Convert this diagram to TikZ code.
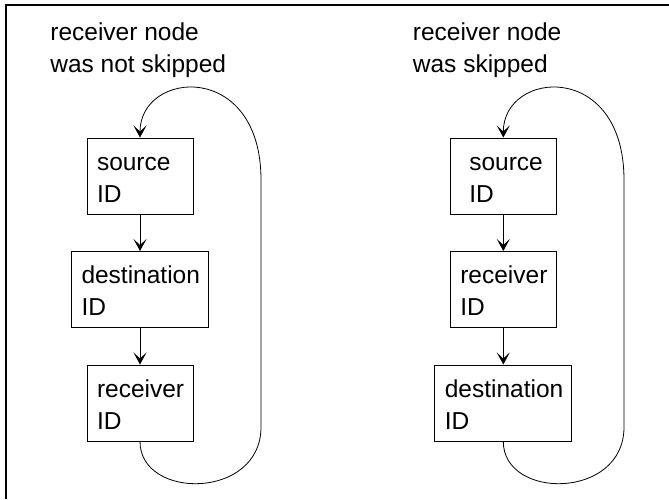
\documentclass[tikz,border=0pt]{standalone}
\usepackage{fontspec}
\setmainfont{Liberation Sans}
\usetikzlibrary{arrows.meta}
\newcommand{\idfont}{\fontsize{12.25pt}{16pt}\selectfont}

\begin{document}
\begin{tikzpicture}[x=0.5pt, y=-0.5pt,
    idbox/.style={draw, line width=0.5pt, align=left, font=\idfont,
      inner xsep=5pt, text width=43pt, minimum height=38pt,
      execute at begin node={\rule{0pt}{10pt}}},
    widebox/.style={idbox, text width=58.5pt},
    lateidbox/.style={idbox, inner xsep=9.5pt, text width=34pt},
    caption/.style={anchor=north west, align=left, inner sep=0pt, font=\idfont},
    link/.style={-{Stealth[length=6pt, width=6.5pt, inset=3pt]}, line width=0.4pt},
    backarc/.style={-{Stealth[length=6pt, width=6.5pt, inset=3pt]}, line width=0.4pt}]
  \useasboundingbox (0,0) rectangle (669,499);

  % Frame (only top and left edge visible)
  \draw[line width=0.9pt] (669,4.8) -- (5.8,4.8) -- (5.8,499);

  % Left: receiver node was not skipped
  \node[caption] (capA) at (50,22.7) {receiver node\\was not skipped};
  \node[idbox]   (srcA) at (140,176)   {source\\ID};
  \node[widebox] (dstA) at (140,289.5) {destination\\ID};
  \node[idbox]   (rcvA) at (140,403)   {receiver\\ID};
  \draw[link] (srcA) -- (dstA);
  \draw[link] (dstA) -- (rcvA);
  \draw[backarc] (rcvA.south) .. controls (140,500) and (261,500) .. (261,427)
    -- (261,180) .. controls (261,60) and (140,70) .. (srcA.north);

  % Right: receiver node was skipped
  \node[caption]   (capB) at (412.5,22.7) {receiver node\\was skipped};
  \node[lateidbox] (srcB) at (503.3,176)   {source\\ID};
  \node[idbox]     (rcvB) at (503.3,289.5) {receiver\\ID};
  \node[widebox]   (dstB) at (503.3,403)   {destination\\ID};
  \draw[link] (srcB) -- (rcvB);
  \draw[link] (rcvB) -- (dstB);
  \draw[backarc] (dstB.south) .. controls (503.3,500) and (624,500) .. (624,427)
    -- (624,180) .. controls (624,60) and (503.3,70) .. (srcB.north);
\end{tikzpicture}
\end{document}
